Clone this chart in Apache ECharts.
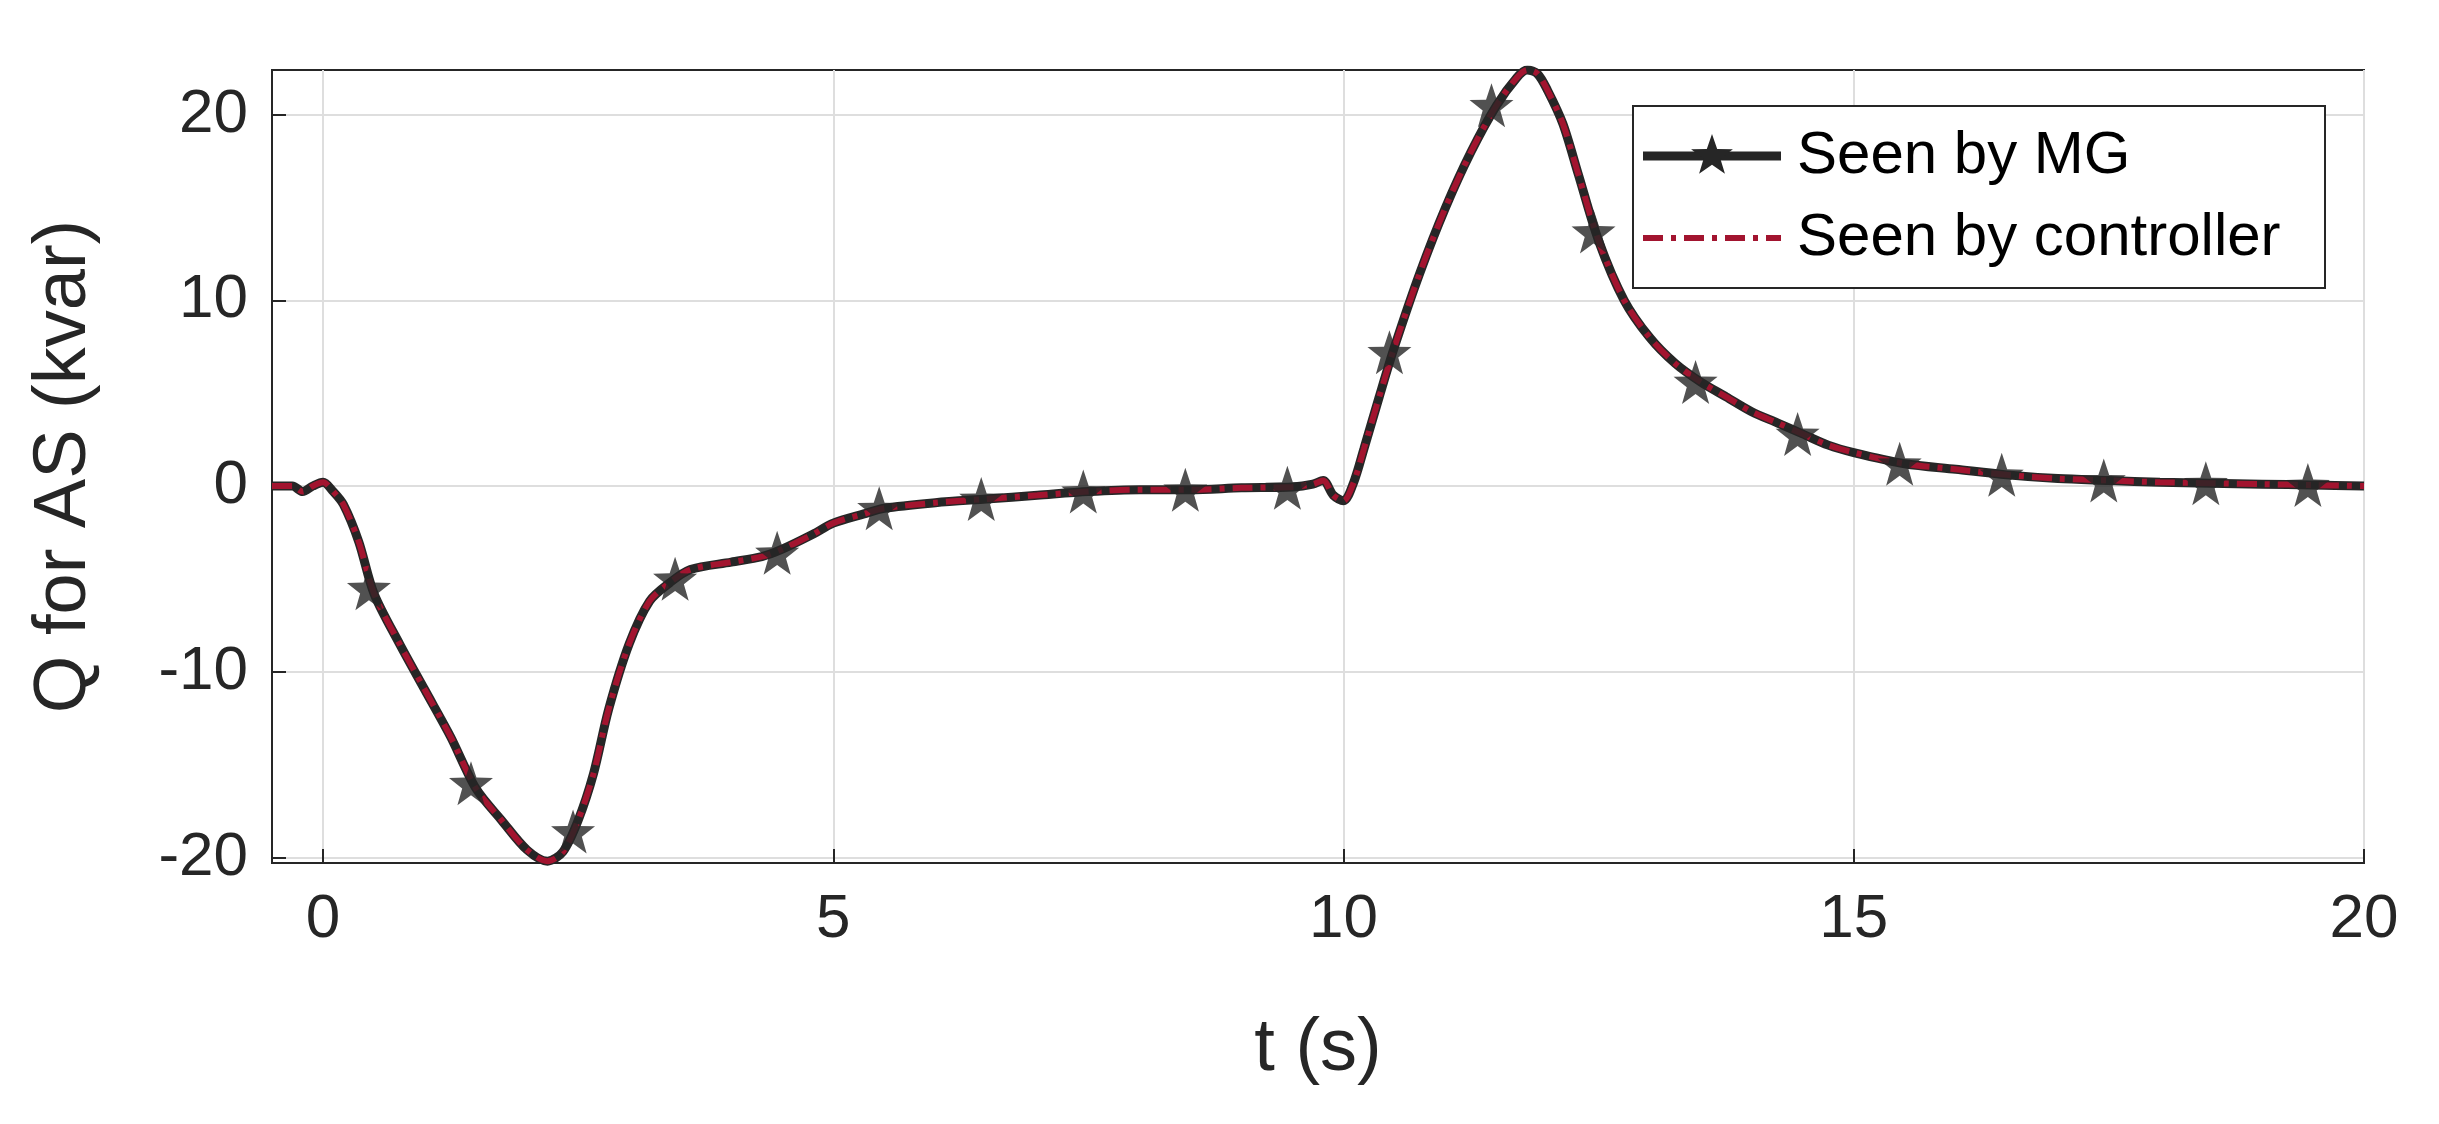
<!DOCTYPE html>
<html><head><meta charset="utf-8">
<script src="https://cdn.jsdelivr.net/npm/echarts@6/dist/echarts.min.js"></script>
<style>html,body{margin:0;background:#fff}#c{width:2439px;height:1124px}</style>
</head><body><div id="c"></div>
<script>
const curve = [[-0.5,0],[-0.3,0],[-0.2,-0.3],[-0.1,0],[0,0.2],[0.1,-0.3],[0.2,-1],[0.35,-3],[0.5,-5.8],[0.75,-8.5],[1,-11],[1.25,-13.5],[1.5,-16.3],[1.75,-18],[2,-19.6],[2.2,-20.2],[2.35,-19.7],[2.5,-18],[2.65,-15.5],[2.8,-12],[3,-8.5],[3.2,-6.2],[3.4,-5.2],[3.6,-4.5],[4,-4.1],[4.3,-3.8],[4.5,-3.4],[4.8,-2.6],[5,-2],[5.3,-1.5],[5.5,-1.2],[6,-0.9],[6.5,-0.7],[7,-0.5],[7.5,-0.3],[8,-0.2],[8.5,-0.2],[9,-0.1],[9.5,-0.05],[9.7,0.1],[9.8,0.3],[9.9,-0.5],[10,-0.8],[10.1,0.2],[10.2,2],[10.35,4.8],[10.5,7.5],[10.75,11.5],[11,15],[11.25,18],[11.5,20.5],[11.7,22],[11.8,22.4],[11.9,22.2],[12,21.3],[12.15,19.5],[12.3,16.8],[12.5,13.2],[12.75,10],[13,8],[13.25,6.6],[13.5,5.6],[13.75,4.8],[14,4],[14.25,3.4],[14.5,2.8],[14.75,2.2],[15,1.8],[15.5,1.2],[16,0.9],[16.5,0.6],[17,0.4],[17.5,0.3],[18,0.2],[18.5,0.15],[19,0.1],[19.5,0.05],[20,0]];
const stars = [[0.45,-5.5],[1.45,-16],[2.45,-18.6],[3.45,-5],[4.45,-3.6],[5.45,-1.2],[6.45,-0.7],[7.45,-0.3],[8.45,-0.2],[9.45,-0.1],[10.45,7.2],[11.45,20.5],[12.45,13.7],[13.45,5.6],[14.45,2.8],[15.45,1.2],[16.45,0.6],[17.45,0.3],[18.45,0.15],[19.45,0.05]];
const xTicks = [0,5,10,15,20];
const yTicks = [-20,-10,0,10,20];
const font = 'Liberation Sans, Arial, sans-serif';
function starPts(cx,cy,R){const p=[];for(let i=0;i<10;i++){const r=i%2?R*0.4:R,a=-Math.PI/2+i*Math.PI/5;p.push([cx+r*Math.cos(a),cy+r*Math.sin(a)]);}return p;}
const sp = starPts(50,50,50);
const starPath = 'path://M'+sp.map(q=>q[0].toFixed(2)+','+q[1].toFixed(2)).join('L')+'Z';
const chart = echarts.init(document.getElementById('c'));
const axisCommon = {
  axisLine:{onZero:false,lineStyle:{color:'#262626',width:2}},
  axisTick:{inside:true,length:14,lineStyle:{color:'#262626',width:2}},
  splitLine:{show:true,lineStyle:{color:'#dedede',width:2}},
  axisLabel:{color:'#262626',fontSize:62,fontFamily:font},
  nameTextStyle:{color:'#262626',fontSize:74,fontFamily:font}
};
chart.setOption({
  animation:false,
  grid:{left:272,right:75,top:70,bottom:261,show:true,borderColor:'#262626',borderWidth:2},
  xAxis:Object.assign({},axisCommon,{type:'value',min:-0.5,max:20,name:'t (s)',nameLocation:'middle',nameGap:150,
    axisLabel:Object.assign({},axisCommon.axisLabel,{margin:26,customValues:xTicks}),
    axisTick:Object.assign({},axisCommon.axisTick,{customValues:xTicks})}),
  yAxis:Object.assign({},axisCommon,{type:'value',min:-20.3,max:22.4,name:'Q for AS (kvar)',nameLocation:'middle',nameGap:170,
    axisLabel:Object.assign({},axisCommon.axisLabel,{margin:24,customValues:yTicks}),
    axisTick:Object.assign({},axisCommon.axisTick,{customValues:yTicks})}),
  series:[
    {name:'Seen by MG',type:'line',data:curve,smooth:0.3,showSymbol:false,lineStyle:{color:'#262626',width:9},z:2},
    {name:'Seen by controller',type:'line',data:curve,smooth:0.3,showSymbol:false,lineStyle:{color:'#a2142f',width:6,type:[20,8,5,8]},z:3},
    {type:'scatter',data:stars,symbol:starPath,symbolSize:44,itemStyle:{color:'#262626'},z:4}
  ],
  graphic:[
    {type:'rect',z:100,shape:{x:1633,y:106,width:692,height:182},style:{fill:'#fff',stroke:'#262626',lineWidth:2}},
    {type:'line',z:101,shape:{x1:1643,y1:156,x2:1781,y2:156},style:{stroke:'#262626',lineWidth:9}},
    {type:'polygon',z:102,shape:{points:starPts(1712,156,22)},style:{fill:'#262626'}},
    {type:'line',z:101,shape:{x1:1643,y1:238,x2:1781,y2:238},style:{stroke:'#a2142f',lineWidth:6,lineDash:[20,8,5,8]}},
    {type:'text',z:101,x:1797,y:156,style:{text:'Seen by MG',font:'60px '+font,fill:'#000',textVerticalAlign:'middle'}},
    {type:'text',z:101,x:1797,y:238,style:{text:'Seen by controller',font:'60px '+font,fill:'#000',textVerticalAlign:'middle'}}
  ]
});
</script></body></html>
